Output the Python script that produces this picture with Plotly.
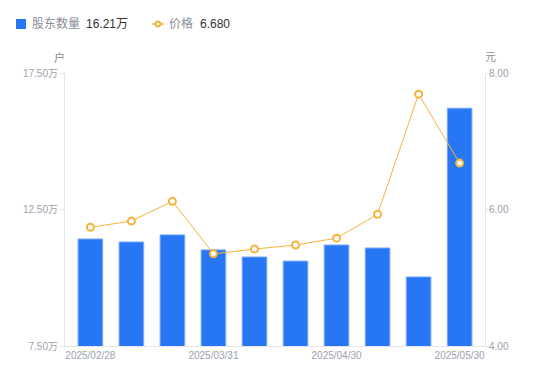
import plotly.graph_objects as go

dates = ["2025/02/28", "2025/03/10", "2025/03/20", "2025/03/31", "2025/04/10",
         "2025/04/18", "2025/04/30", "2025/05/09", "2025/05/20", "2025/05/30"]
holders = [11.42, 11.31, 11.57, 11.02, 10.76, 10.61, 11.20, 11.09, 10.03, 16.21]  # 万户
price = [5.74, 5.83, 6.12, 5.35, 5.42, 5.48, 5.58, 5.93, 7.69, 6.68]
shown_ticks = ["2025/02/28", "2025/03/31", "2025/04/30", "2025/05/30"]
left_ticks = [7.5, 12.5, 17.5]
left_labels = ["7.50万", "12.50万", "17.50万"]
right_ticks = [4, 6, 8]
right_labels = ["4.00", "6.00", "8.00"]

BLUE = "#2777f5"
ORANGE = "#f7b23b"
GRAY = "#9da1ad"
AXIS = "#e3e5ea"
FONT = "Liberation Sans, Noto Sans CJK SC, sans-serif"

L, T, W, H = 65, 73, 420, 273

def px(x):
    return (x - L) / W

def py(y):
    return 1.0 - (y - T) / H

fig = go.Figure()
fig.add_trace(go.Bar(x=dates, y=holders, marker=dict(color=BLUE, line=dict(color="#7aa9f8", width=1)),
                     width=0.6, yaxis="y", name="股东数量", hoverinfo="skip"))
fig.add_trace(go.Scatter(x=dates, y=price, yaxis="y2", mode="lines+markers", name="价格",
                         line=dict(color=ORANGE, width=1),
                         marker=dict(symbol="circle", size=7, color="white",
                                     line=dict(color=ORANGE, width=2)), hoverinfo="skip"))

fig.update_layout(
    width=550, height=381,
    margin=dict(l=65, r=65, t=73, b=35),
    plot_bgcolor="white", paper_bgcolor="white",
    showlegend=False,
    font=dict(family=FONT, color=GRAY, size=10),
    xaxis=dict(type="category", tickmode="array", tickvals=shown_ticks, ticktext=shown_ticks,
               showgrid=False, showline=True, linecolor=AXIS, linewidth=1, ticks="",
               tickfont=dict(size=10, color=GRAY), zeroline=False, automargin=False),
    yaxis=dict(range=[7.5, 17.5], tickvals=left_ticks, ticktext=left_labels, showgrid=False,
               showline=True, linecolor=AXIS, linewidth=1, ticks="outside", ticklen=4,
               tickcolor=AXIS, zeroline=False, tickfont=dict(size=10, color=GRAY), automargin=False),
    yaxis2=dict(range=[4, 8], tickvals=right_ticks, ticktext=right_labels, overlaying="y",
                side="right", showgrid=False, showline=True, linecolor=AXIS, linewidth=1,
                ticks="outside", ticklen=4, tickcolor=AXIS, zeroline=False,
                tickfont=dict(size=10, color=GRAY), automargin=False, ticklabelstandoff=-3),
)

# axis unit titles
fig.add_annotation(text="户", xref="paper", yref="paper", x=px(59), y=py(57),
                   showarrow=False, font=dict(size=11, color="#8a8e99"), xanchor="center", yanchor="middle")
fig.add_annotation(text="元", xref="paper", yref="paper", x=px(490), y=py(57),
                   showarrow=False, font=dict(size=11, color="#8a8e99"), xanchor="center", yanchor="middle")

# custom legend
ly = 24
fig.add_shape(type="rect", xref="paper", yref="paper", x0=px(16), x1=px(26),
              y0=py(ly + 5), y1=py(ly - 5), fillcolor=BLUE, line=dict(width=0))
fig.add_annotation(text="股东数量", xref="paper", yref="paper", x=px(30), y=py(ly),
                   showarrow=False, xanchor="left", yanchor="middle",
                   font=dict(size=12, color="#8a8e99"))
fig.add_annotation(text="16.21万", xref="paper", yref="paper", x=px(84), y=py(ly),
                   showarrow=False, xanchor="left", yanchor="middle",
                   font=dict(size=12, color="#333333"))
fig.add_shape(type="line", xref="paper", yref="paper", x0=px(152), x1=px(164),
              y0=py(ly), y1=py(ly), line=dict(color=ORANGE, width=1.5))
fig.add_shape(type="circle", xref="paper", yref="paper", x0=px(155.5), x1=px(160.5),
              y0=py(ly + 2.5), y1=py(ly - 2.5),
              fillcolor="white", line=dict(color=ORANGE, width=2))
fig.add_annotation(text="价格", xref="paper", yref="paper", x=px(167), y=py(ly),
                   showarrow=False, xanchor="left", yanchor="middle",
                   font=dict(size=12, color="#8a8e99"))
fig.add_annotation(text="6.680", xref="paper", yref="paper", x=px(198), y=py(ly),
                   showarrow=False, xanchor="left", yanchor="middle",
                   font=dict(size=12, color="#333333"))

fig.write_html("out.html", config={"displayModeBar": False},
               post_script="document.body.style.margin='0';")
